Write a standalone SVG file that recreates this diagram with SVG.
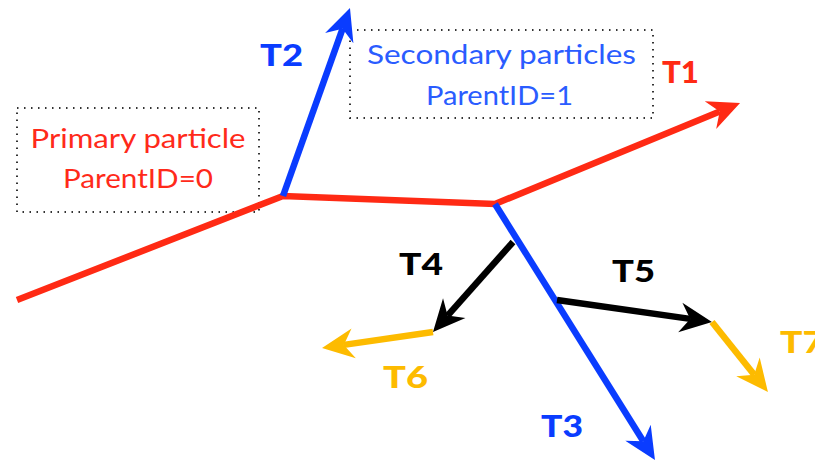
<svg xmlns="http://www.w3.org/2000/svg" width="815" height="463" viewBox="0 0 815 463">
<style>
.box{fill:none;stroke:#333;stroke-width:2;stroke-dasharray:1.5 5.5}
.lbl{font-family:Lato,"Liberation Sans",sans-serif;font-size:26.5px;text-anchor:middle}
.tl{font-family:Lato,"Liberation Sans",sans-serif;font-size:30px;font-weight:900}
.trk{fill:none;stroke-width:6.5;stroke-linejoin:miter}
</style>
<defs>
<marker id="ar" viewBox="-34 -17 36 34" refX="-22" refY="0" markerWidth="36" markerHeight="34" markerUnits="userSpaceOnUse" orient="auto"><path d="M0,0 L-32,-15 L-22,0 L-32,15 Z" fill="#ff2a14"/></marker>
<marker id="ab" viewBox="-34 -17 36 34" refX="-22" refY="0" markerWidth="36" markerHeight="34" markerUnits="userSpaceOnUse" orient="auto"><path d="M0,0 L-32,-15 L-22,0 L-32,15 Z" fill="#0a3cff"/></marker>
<marker id="ak" viewBox="-34 -17 36 34" refX="-22" refY="0" markerWidth="36" markerHeight="34" markerUnits="userSpaceOnUse" orient="auto"><path d="M0,0 L-32,-15 L-22,0 L-32,15 Z" fill="#000"/></marker>
<marker id="ao" viewBox="-34 -17 36 34" refX="-22" refY="0" markerWidth="36" markerHeight="34" markerUnits="userSpaceOnUse" orient="auto"><path d="M0,0 L-32,-15 L-22,0 L-32,15 Z" fill="#fdbb00"/></marker>
</defs>
<g id="primary-box">
<rect class="box" x="17" y="108" width="242" height="104"/>
<text class="lbl" fill="#ff2a1a" x="138" y="148" textLength="215" lengthAdjust="spacingAndGlyphs">Primary particle</text>
<text class="lbl" fill="#ff2a1a" x="138" y="188" textLength="150" lengthAdjust="spacingAndGlyphs">ParentID=0</text>
</g>
<g id="secondary-box">
<rect class="box" x="350" y="30" width="303" height="88"/>
<text class="lbl" fill="#2a5cff" x="501.5" y="64" textLength="269" lengthAdjust="spacingAndGlyphs">Secondary particles</text>
<text class="lbl" fill="#2a5cff" x="499.5" y="105" textLength="147" lengthAdjust="spacingAndGlyphs">ParentID=1</text>
</g>
<g id="connectors">
<path id="T1" class="trk" stroke="#ff2a14" d="M17,300 L283,196 L495,204 L719.7,111.4" marker-end="url(#ar)"/>
<path id="T2" class="trk" stroke="#0a3cff" d="M283,196 L342.6,28.7" marker-end="url(#ab)"/>
<path id="T3" class="trk" stroke="#0a3cff" d="M495,204 L643.3,441.3" marker-end="url(#ab)"/>
<path id="T4" class="trk" stroke="#000" d="M513,242 L447.6,315.6" marker-end="url(#ak)"/>
<path id="T5" class="trk" stroke="#000" d="M557,300 L690.2,318.9" marker-end="url(#ak)"/>
<path id="T6" class="trk" stroke="#fdbb00" d="M433,332 L343.8,344.9" marker-end="url(#ao)"/>
<path id="T7" class="trk" stroke="#fdbb00" d="M712,322 L754.2,374.8" marker-end="url(#ao)"/>
</g>
<g id="track-labels">
<text class="tl" fill="#0a3cff" x="260" y="66" textLength="43" lengthAdjust="spacingAndGlyphs">T2</text>
<text class="tl" fill="#ff2a14" x="662" y="83" textLength="37" lengthAdjust="spacingAndGlyphs">T1</text>
<text class="tl" fill="#000" x="399" y="275" textLength="44" lengthAdjust="spacingAndGlyphs">T4</text>
<text class="tl" fill="#000" x="612" y="282" textLength="43" lengthAdjust="spacingAndGlyphs">T5</text>
<text class="tl" fill="#fdbb00" x="383" y="388" textLength="45" lengthAdjust="spacingAndGlyphs">T6</text>
<text class="tl" fill="#0a3cff" x="541" y="437" textLength="42" lengthAdjust="spacingAndGlyphs">T3</text>
<text class="tl" fill="#fdbb00" x="780" y="353" textLength="44" lengthAdjust="spacingAndGlyphs">T7</text>
</g>
</svg>
